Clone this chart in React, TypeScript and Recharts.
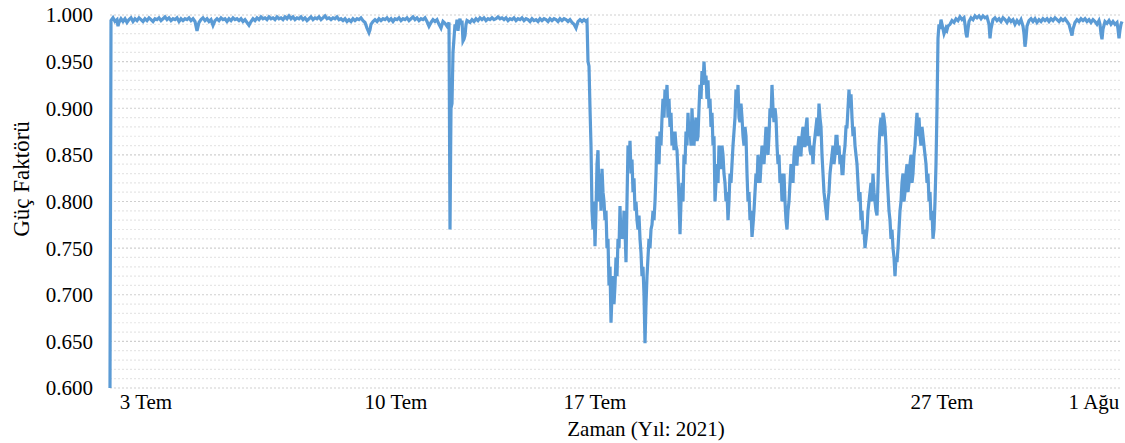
import React from 'react';
import { LineChart, Line, XAxis, YAxis, CartesianGrid, ReferenceLine } from 'recharts';

// sample index (0..1012 across 3 Tem – 1 Ağu) and power factor reading
const readings: [number, number][] = [
  [0, 0.6], [1, 0.994], [3, 0.997], [5, 0.993], [7, 0.995], [8, 0.988], [9, 0.992], [11, 0.996], [13, 0.993],
  [15, 0.996], [17, 0.992], [19, 0.995], [21, 0.997], [23, 0.993], [25, 0.996], [27, 0.994], [29, 0.997],
  [31, 0.995], [33, 0.993], [35, 0.996], [37, 0.994], [39, 0.997], [41, 0.995], [43, 0.993], [45, 0.996],
  [47, 0.995], [49, 0.997], [51, 0.994], [53, 0.996], [55, 0.998], [57, 0.995], [59, 0.997], [61, 0.994],
  [63, 0.996], [65, 0.995], [67, 0.997], [69, 0.993], [71, 0.996], [73, 0.994], [75, 0.996], [77, 0.995],
  [79, 0.997], [81, 0.994], [83, 0.996], [85, 0.993], [87, 0.983], [89, 0.992], [91, 0.995], [93, 0.997],
  [95, 0.994], [97, 0.996], [99, 0.993], [101, 0.995], [103, 0.989], [105, 0.994], [107, 0.996], [109, 0.994],
  [111, 0.997], [113, 0.995], [115, 0.996], [117, 0.993], [119, 0.996], [121, 0.994], [123, 0.997], [125, 0.995],
  [127, 0.996], [129, 0.994], [131, 0.996], [133, 0.993], [135, 0.995], [137, 0.992], [139, 0.989], [141, 0.993],
  [143, 0.996], [145, 0.994], [147, 0.997], [149, 0.995], [151, 0.998], [153, 0.996], [155, 0.997], [157, 0.995],
  [159, 0.998], [161, 0.996], [163, 0.997], [165, 0.995], [167, 0.998], [169, 0.996], [171, 0.997], [173, 0.995],
  [175, 0.998], [177, 0.996], [179, 0.999], [181, 0.996], [183, 0.998], [185, 0.995], [187, 0.997], [189, 0.996],
  [191, 0.998], [193, 0.995], [195, 0.997], [197, 0.994], [199, 0.996], [201, 0.998], [203, 0.995], [205, 0.997],
  [207, 0.996], [209, 0.998], [211, 0.995], [213, 0.997], [215, 0.999], [217, 0.996], [219, 0.997], [221, 0.995],
  [223, 0.997], [225, 0.996], [227, 0.998], [229, 0.995], [231, 0.996], [233, 0.994], [235, 0.996], [237, 0.993],
  [239, 0.995], [241, 0.993], [243, 0.996], [245, 0.994], [247, 0.996], [249, 0.995], [251, 0.997], [253, 0.994],
  [255, 0.992], [257, 0.986], [259, 0.981], [260, 0.984], [261, 0.99], [263, 0.993], [265, 0.995], [267, 0.993],
  [269, 0.996], [271, 0.994], [273, 0.996], [275, 0.995], [277, 0.997], [279, 0.994], [281, 0.996], [283, 0.993],
  [285, 0.996], [287, 0.995], [289, 0.997], [291, 0.994], [293, 0.996], [295, 0.995], [297, 0.997], [299, 0.994],
  [301, 0.996], [303, 0.998], [305, 0.995], [307, 0.997], [309, 0.994], [311, 0.996], [313, 0.995], [315, 0.997],
  [317, 0.993], [319, 0.988], [321, 0.992], [323, 0.995], [325, 0.993], [327, 0.995], [329, 0.99], [331, 0.986],
  [333, 0.993], [335, 0.991], [337, 0.988], [339, 0.992],
  [340, 0.77], [341, 0.9], [342, 0.905], [343, 0.96], [344, 0.975], [345, 0.99], [346, 0.985], [347, 0.995],
  [348, 0.983], [349, 0.992], [350, 0.996], [351, 0.99], [352, 0.994], [353, 0.972], [354, 0.974], [355, 0.978],
  [356, 0.99], [357, 0.994], [360, 0.992], [362, 0.995], [364, 0.993], [366, 0.996], [368, 0.994], [370, 0.997],
  [372, 0.995], [374, 0.997], [376, 0.994], [378, 0.996], [380, 0.995], [382, 0.997], [384, 0.995], [386, 0.996],
  [388, 0.998], [390, 0.996], [392, 0.997], [394, 0.995], [396, 0.997], [398, 0.994], [400, 0.996], [402, 0.995],
  [404, 0.997], [406, 0.994], [408, 0.996], [410, 0.995], [412, 0.997], [414, 0.994], [416, 0.996], [418, 0.995],
  [420, 0.993], [422, 0.996], [424, 0.994], [426, 0.995], [428, 0.993], [430, 0.996], [432, 0.994], [434, 0.996],
  [436, 0.995], [438, 0.993], [440, 0.996], [442, 0.994], [444, 0.996], [446, 0.995], [448, 0.993], [450, 0.996],
  [452, 0.994], [454, 0.996], [456, 0.995], [458, 0.993], [460, 0.995], [462, 0.992], [464, 0.99], [466, 0.986],
  [468, 0.993], [470, 0.995], [472, 0.993], [474, 0.995], [476, 0.993], [477, 0.994], [478, 0.95], [479, 0.945],
  [480, 0.9], [481, 0.86],
  [482, 0.79], [483, 0.77], [484, 0.8], [485, 0.752], [486, 0.79], [487, 0.84], [488, 0.855], [489, 0.8],
  [490, 0.83], [491, 0.79], [492, 0.835], [493, 0.81], [494, 0.8], [495, 0.78], [496, 0.79], [497, 0.75],
  [498, 0.76], [499, 0.71], [500, 0.73], [501, 0.67], [502, 0.7], [503, 0.72], [504, 0.69], [505, 0.71],
  [506, 0.74], [507, 0.72], [508, 0.76], [509, 0.75], [510, 0.795], [511, 0.76], [512, 0.78], [513, 0.76],
  [514, 0.79], [515, 0.77], [516, 0.735], [517, 0.8], [518, 0.86], [519, 0.84], [520, 0.865], [521, 0.83],
  [522, 0.845], [523, 0.81], [524, 0.825], [525, 0.79], [526, 0.8], [527, 0.78], [528, 0.77], [529, 0.785],
  [530, 0.76], [531, 0.745], [532, 0.72], [533, 0.73], [534, 0.7], [535, 0.648], [536, 0.69], [537, 0.72],
  [538, 0.74], [539, 0.76], [540, 0.75], [541, 0.77], [542, 0.775], [543, 0.79], [544, 0.78], [545, 0.8],
  [546, 0.83], [547, 0.87], [548, 0.85], [549, 0.84], [550, 0.875], [551, 0.86], [552, 0.89], [553, 0.91],
  [554, 0.89], [555, 0.92], [556, 0.905], [557, 0.925], [558, 0.89], [559, 0.91], [560, 0.88], [561, 0.895],
  [562, 0.86], [563, 0.875], [564, 0.855], [565, 0.875], [566, 0.86], [567, 0.855], [568, 0.83], [569, 0.8],
  [570, 0.765], [571, 0.8], [572, 0.82], [573, 0.8], [574, 0.85], [575, 0.84], [576, 0.875], [577, 0.86],
  [578, 0.895], [579, 0.87], [580, 0.88], [581, 0.86], [582, 0.9], [583, 0.87], [584, 0.86], [585, 0.88],
  [586, 0.89], [587, 0.865], [588, 0.87], [589, 0.9], [590, 0.925], [591, 0.91], [592, 0.94], [593, 0.925],
  [594, 0.95], [595, 0.93], [596, 0.935], [597, 0.91], [598, 0.93], [599, 0.9], [600, 0.91], [601, 0.88],
  [602, 0.895], [603, 0.86], [604, 0.87], [605, 0.8], [606, 0.82], [607, 0.84], [608, 0.82], [609, 0.86],
  [610, 0.84], [611, 0.835], [612, 0.86], [613, 0.85], [614, 0.83], [615, 0.82], [616, 0.8], [617, 0.81],
  [618, 0.78], [619, 0.8], [620, 0.83], [621, 0.82], [622, 0.84], [623, 0.86], [624, 0.875], [625, 0.89],
  [626, 0.92], [627, 0.9], [628, 0.925], [629, 0.89], [630, 0.885], [631, 0.905], [632, 0.89], [633, 0.87],
  [634, 0.86], [635, 0.88], [636, 0.87], [637, 0.83], [638, 0.8], [639, 0.81], [640, 0.78], [641, 0.79],
  [642, 0.762], [643, 0.775], [644, 0.79], [645, 0.81], [646, 0.83], [647, 0.82], [648, 0.85], [649, 0.83],
  [650, 0.82], [651, 0.84], [652, 0.86], [653, 0.85], [654, 0.84], [655, 0.86], [656, 0.88], [657, 0.86],
  [658, 0.85], [659, 0.87], [660, 0.9], [661, 0.89], [662, 0.925], [663, 0.9], [664, 0.885], [665, 0.9],
  [666, 0.89], [667, 0.86], [668, 0.84], [669, 0.85], [670, 0.82], [671, 0.83], [672, 0.8], [673, 0.81],
  [674, 0.83], [675, 0.8], [676, 0.78], [677, 0.77], [678, 0.79], [679, 0.8], [680, 0.82], [681, 0.84],
  [682, 0.83], [683, 0.82], [684, 0.85], [685, 0.86], [686, 0.84], [687, 0.84], [688, 0.86], [689, 0.87],
  [690, 0.85], [691, 0.85], [692, 0.87], [693, 0.88], [694, 0.86], [695, 0.86], [696, 0.88], [697, 0.89],
  [698, 0.86], [699, 0.87], [700, 0.855], [701, 0.85], [702, 0.86], [703, 0.84], [704, 0.86], [705, 0.87],
  [706, 0.88], [707, 0.89], [708, 0.87], [709, 0.905], [710, 0.89], [711, 0.88], [712, 0.85], [713, 0.83],
  [714, 0.81], [715, 0.8], [716, 0.79], [717, 0.78], [718, 0.8], [719, 0.81], [720, 0.83], [721, 0.84],
  [722, 0.85], [723, 0.86], [724, 0.84], [725, 0.85], [726, 0.87], [727, 0.87], [728, 0.85], [729, 0.86],
  [730, 0.84], [731, 0.85], [732, 0.83], [733, 0.83], [734, 0.85], [735, 0.86], [736, 0.88], [737, 0.88],
  [738, 0.9], [739, 0.92], [740, 0.9], [741, 0.915], [742, 0.89], [743, 0.87], [744, 0.88], [745, 0.86],
  [746, 0.85], [747, 0.84], [748, 0.82], [749, 0.8], [750, 0.81], [751, 0.78], [752, 0.79], [753, 0.765],
  [754, 0.77], [755, 0.75], [756, 0.76], [757, 0.77], [758, 0.79], [759, 0.8], [760, 0.81], [761, 0.82],
  [762, 0.8], [763, 0.83], [764, 0.81], [765, 0.8], [766, 0.79], [767, 0.785], [768, 0.82], [769, 0.86],
  [770, 0.88], [771, 0.89], [772, 0.87], [773, 0.895], [774, 0.89], [775, 0.88], [776, 0.86], [777, 0.83],
  [778, 0.81], [779, 0.79], [780, 0.78], [781, 0.76], [782, 0.77], [783, 0.75], [784, 0.74], [785, 0.72],
  [786, 0.74], [787, 0.735], [788, 0.75], [789, 0.77], [790, 0.79], [791, 0.8], [792, 0.82], [793, 0.83],
  [794, 0.8], [795, 0.81], [796, 0.83], [797, 0.84], [798, 0.81], [799, 0.82], [800, 0.84], [801, 0.85],
  [802, 0.82], [803, 0.83], [804, 0.85], [805, 0.86], [806, 0.88], [807, 0.895], [808, 0.87], [809, 0.89],
  [810, 0.87], [811, 0.86], [812, 0.88], [813, 0.87], [814, 0.86], [815, 0.85], [816, 0.84], [817, 0.82],
  [818, 0.83], [819, 0.8], [820, 0.81], [821, 0.78], [822, 0.79], [823, 0.76], [824, 0.77], [825, 0.8],
  [826, 0.84], [827, 0.9], [828, 0.975],
  [829, 0.99], [830, 0.985], [831, 0.995], [832, 0.99], [833, 0.985], [834, 0.98], [835, 0.983], [836, 0.986],
  [837, 0.984], [838, 0.988], [840, 0.99], [842, 0.994], [844, 0.992], [846, 0.996], [848, 0.994], [850, 0.998],
  [852, 0.995], [854, 0.997], [855, 0.99], [856, 0.98], [857, 0.976], [858, 0.985], [859, 0.993], [861, 0.997],
  [863, 0.995], [865, 0.999], [867, 0.997], [869, 0.999], [871, 0.996], [873, 0.999], [875, 0.997], [877, 0.998],
  [879, 0.99], [880, 0.975], [881, 0.985], [883, 0.995], [885, 0.997], [887, 0.994], [889, 0.996], [891, 0.993],
  [893, 0.997], [895, 0.995], [897, 0.992], [899, 0.996], [901, 0.993], [903, 0.995], [905, 0.99], [907, 0.994],
  [909, 0.991], [911, 0.995], [913, 0.988], [914, 0.98], [915, 0.966], [916, 0.975], [917, 0.988], [919, 0.994],
  [921, 0.996], [923, 0.993], [925, 0.996], [927, 0.992], [929, 0.995], [931, 0.993], [933, 0.996], [935, 0.994],
  [937, 0.996], [939, 0.993], [941, 0.996], [943, 0.994], [945, 0.997], [947, 0.995], [949, 0.993], [951, 0.996],
  [953, 0.994], [955, 0.996], [957, 0.993], [959, 0.99], [961, 0.982], [962, 0.978], [963, 0.985], [965, 0.992],
  [967, 0.995], [969, 0.993], [971, 0.996], [973, 0.994], [975, 0.996], [977, 0.993], [979, 0.995], [981, 0.992],
  [983, 0.995], [985, 0.993], [987, 0.99], [989, 0.994], [990, 0.99], [991, 0.98], [992, 0.974], [993, 0.985],
  [995, 0.993], [997, 0.991], [999, 0.994], [1001, 0.99], [1003, 0.993], [1005, 0.99], [1007, 0.992],
  [1008, 0.985], [1009, 0.975], [1010, 0.984], [1011, 0.99], [1012, 0.993],
];

const xTickIdx = [36, 286, 485, 832, 984];
const xTickLabels = ['3 Tem', '10 Tem', '17 Tem', '27 Tem', '1 Ağu'];
const yMajorTicks = [0.6, 0.65, 0.7, 0.75, 0.8, 0.85, 0.9, 0.95, 1.0];
const yMinorGrid = [
  0.61, 0.62, 0.63, 0.64, 0.66, 0.67, 0.68, 0.69, 0.71, 0.72, 0.73, 0.74, 0.76, 0.77, 0.78, 0.79,
  0.81, 0.82, 0.83, 0.84, 0.86, 0.87, 0.88, 0.89, 0.91, 0.92, 0.93, 0.94, 0.96, 0.97, 0.98, 0.99,
];

const chartData = readings.map(([idx, pf]) => ({ idx, pf }));
const FONT = '"Liberation Serif", "Times New Roman", serif';

export default function App() {
  return (
    <div style={{ position: 'absolute', left: 0, top: 0, width: 1125, height: 443, background: '#fff' }}>
      <LineChart width={1125} height={443} data={chartData} margin={{ top: 15, right: 3, left: 0, bottom: 25 }}>
        <CartesianGrid vertical={false} stroke="#cfcfcf" strokeDasharray="2 2" strokeWidth={1.2} />
        {yMinorGrid.map((v) => (
          <ReferenceLine key={v} y={v} stroke="#e6e6e6" strokeDasharray="2 2" strokeWidth={1.2} />
        ))}
        <XAxis
          type="number"
          dataKey="idx"
          domain={[0, 1012]}
          ticks={xTickIdx}
          tickFormatter={(v: number) => xTickLabels[xTickIdx.indexOf(v)] ?? ''}
          axisLine={false}
          tickLine={false}
          tickMargin={0}
          height={30}
          interval={0}
          tick={{ fontFamily: FONT, fontSize: 21, fill: '#000' }}
          label={() => (
            <text x={646} y={436} textAnchor="middle" fontFamily={FONT} fontSize={21} fill="#000">
              Zaman (Yıl: 2021)
            </text>
          )}
        />
        <YAxis
          type="number"
          domain={[0.6, 1.0]}
          ticks={yMajorTicks}
          interval={0}
          width={110}
          axisLine={false}
          tickLine={false}
          tickMargin={11}
          tickFormatter={(v: number) => v.toFixed(3)}
          tick={{ fontFamily: FONT, fontSize: 21, fill: '#000' }}
          label={() => (
            <text
              x={21}
              y={179}
              transform="rotate(-90 21 179)"
              textAnchor="middle"
              dominantBaseline="central"
              fontFamily={FONT}
              fontSize={23}
              fill="#000"
            >
              Güç Faktörü
            </text>
          )}
        />
        <Line
          type="linear"
          dataKey="pf"
          stroke="#5B9BD5"
          strokeWidth={3.2}
          dot={false}
          isAnimationActive={false}
        />
      </LineChart>
    </div>
  );
}
